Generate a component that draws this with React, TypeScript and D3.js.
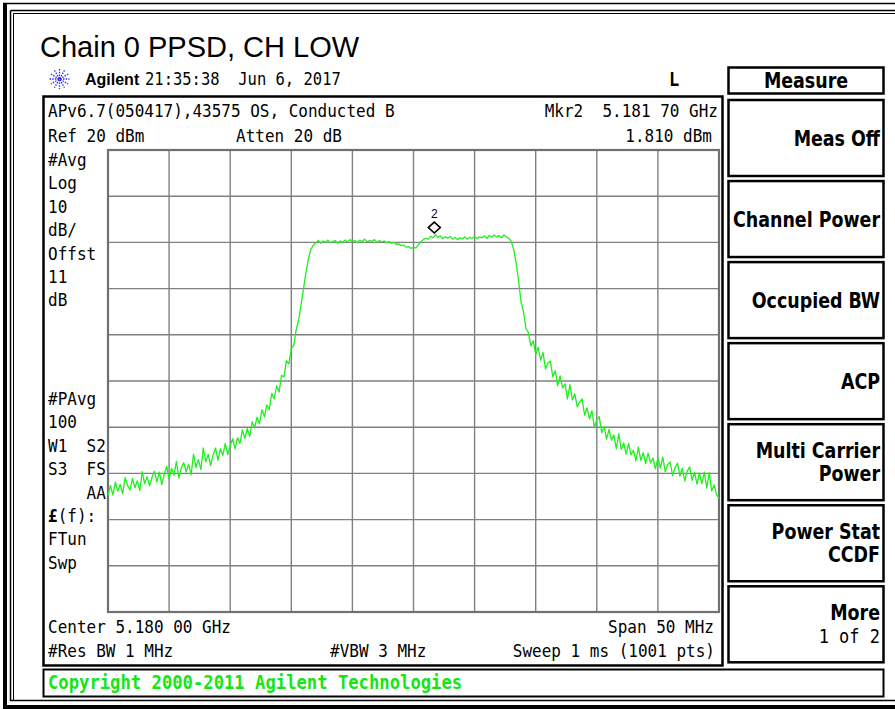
import React from 'react';
import * as d3 from 'd3';

// sweep: 5.180 GHz centre, 50 MHz span, offsets in MHz
const FREQ_START = -25;
const FREQ_STEP = 0.2;
const REF_LEVEL = 20;
const DB_PER_DIV = 10;
const DIVS = 10;

// trace levels (dBm), lower skirt / channel / upper skirt
const LOWER_SKIRT_DBM = [
  -54.8, -52.6, -54.7, -51.9, -53.8, -52.4, -54.4, -50.9, -52.6, -53.6,
  -51.1, -53.1, -51.6, -53.7, -49.6, -52.2, -50.7, -52.7, -50.9, -49.5,
  -51.9, -49.7, -52.4, -50.2, -48.5, -51.2, -48.9, -50.4, -47.4, -51.0,
  -48.8, -47.7, -49.7, -48.0, -50.3, -45.8, -48.7, -47.0, -49.2, -44.5,
  -47.5, -45.9, -48.3, -46.0, -44.5, -47.1, -44.7, -46.1, -43.5, -45.9,
  -44.0, -42.5, -44.7, -42.3, -43.5, -40.6, -42.4, -40.3, -42.0, -38.8,
  -40.1, -37.8, -39.3, -36.2, -37.7, -35.2, -36.2, -32.7, -33.9, -31.0,
  -32.4, -28.8, -29.1, -25.6, -26.3, -23.0, -22.3, -18.9, -16.8, -13.5,
  -10.0, -6.5, -3.6, -1.5, -0.6,
];
const CHANNEL_DBM = [
  -0.1, 0.4, -0.2, 0.3, 0.0, 0.5, -0.1, 0.2, 0.4, -0.2,
  0.3, 0.0, 0.5, 0.1, 0.6, 0.2, 0.4, -0.1, 0.5, 0.2,
  0.7, 0.1, 0.4, 0.2, 0.6, 0.0, 0.4, 0.1, 0.3, -0.1,
  0.2, -0.2, 0.0, -0.4, -0.3, -0.7, -0.6, -1.0, -0.9, -1.3,
  -1.1, -1.2, -0.5, 0.1, 0.6, 0.9, 0.7, 1.3, 1.0, 1.7,
  1.1, 1.4, 0.8, 1.2, 0.9, 1.3, 0.7, 1.1, 0.6, 1.0,
  0.8, 1.2, 0.7, 1.1, 0.9, 1.3, 0.8, 1.2, 1.0, 1.4,
  0.9, 1.5, 1.1, 1.6, 1.2, 1.5, 1.0, 1.6, 1.2, 0.9,
];
const UPPER_SKIRT_DBM = [
  0.2, -1.5, -4.5, -8.3, -12.9, -15.0, -18.6, -19.5, -22.4, -21.3,
  -24.3, -22.7, -25.5, -23.8, -27.4, -26.1, -25.7, -29.1, -27.8, -31.0,
  -28.9, -31.5, -30.6, -33.9, -30.8, -34.1, -32.8, -35.6, -34.5, -33.9,
  -37.4, -35.8, -38.2, -36.4, -40.0, -38.4, -37.7, -41.2, -39.9, -42.6,
  -40.5, -42.8, -41.7, -44.7, -41.4, -44.8, -43.4, -45.8, -43.5, -46.0,
  -45.0, -47.3, -44.3, -47.2, -45.5, -47.9, -45.6, -47.7, -46.7, -49.0,
  -46.6, -48.8, -46.5, -49.6, -48.1, -47.5, -50.5, -48.8, -47.8, -50.6,
  -48.9, -51.6, -49.5, -48.6, -51.5, -49.8, -52.3, -49.9, -52.2, -49.7,
  -53.2, -49.8, -53.8, -52.5, -54.6, -55.4,
];

// marker 2
const MARKER_MHZ = 1.7;
const MARKER_DBM = 1.81;

const LEFT_LABELS_TOP = ['#Avg', 'Log', '10', 'dB/', 'Offst', '11', 'dB'];
const LEFT_LABELS_BOTTOM = ['#PAvg', '100', 'W1  S2', 'S3  FS', '    AA', '£(f):', 'FTun', 'Swp'];
const SOFTKEYS = [
  ['Meas Off'],
  ['Channel Power'],
  ['Occupied BW'],
  ['ACP'],
  ['Multi Carrier', 'Power'],
  ['Power Stat', 'CCDF'],
  ['More', '1 of 2'],
];

const MONO = "'DejaVu Sans Mono', monospace";
const KEYFONT = "'DejaVu Sans Condensed', 'DejaVu Sans', sans-serif";
const ARIAL = "'Liberation Sans', Arial, sans-serif";

const T = ({ x, y, children, anchor = 'start', size = 16, weight = 'normal', family = MONO, fill = '#000', sy = 1.15 }: any) => (
  <text
    transform={`translate(${x},${y}) scale(1,${sy})`}
    textAnchor={anchor}
    fontSize={size}
    fontWeight={weight}
    fontFamily={family}
    fill={fill}
    style={{ whiteSpace: 'pre' }}
  >
    {children}
  </text>
);

export default function App() {
  const W = 895;
  const H = 709;
  const trace = [...LOWER_SKIRT_DBM, ...CHANNEL_DBM, ...UPPER_SKIRT_DBM];

  const x = d3.scaleLinear().domain([FREQ_START, -FREQ_START]).range([108, 719]);
  const y = d3
    .scaleLinear()
    .domain([REF_LEVEL - DB_PER_DIV * DIVS, REF_LEVEL])
    .range([612, 150]);

  const line = d3
    .line<number>()
    .x((d, i) => x(FREQ_START + i * FREQ_STEP))
    .y(d => y(d));

  const vTicks = d3.range(DIVS + 1).map(i => FREQ_START + i * 5);
  const hTicks = d3.range(DIVS + 1).map(i => REF_LEVEL - i * DB_PER_DIV);

  const mx = x(MARKER_MHZ);
  const my = y(MARKER_DBM) - 1;

  const keyTop = 100;
  const keyH = 76;
  const keyGap = 5.05;
  const KS = 19.4; // softkey font size
  const KSY = 1.05;

  return (
    <svg width={W} height={H} style={{ position: 'absolute', left: 0, top: 0, background: '#fff' }}>
      {/* outer frame */}
      <rect x={3} y={3} width={4} height={706} fill="#000" />
      <line x1={3} y1={3.5} x2={W} y2={3.5} stroke="#000" strokeWidth={1.5} />
      <rect x={3} y={705} width={W} height={4} fill="#000" />
      <line x1={10.5} y1={10.5} x2={10.5} y2={701} stroke="#000" strokeWidth={1.5} />
      <line x1={13.5} y1={13.5} x2={13.5} y2={700} stroke="#000" strokeWidth={1} />
      <line x1={10.5} y1={10.5} x2={W} y2={10.5} stroke="#000" strokeWidth={1.5} />
      <line x1={13.5} y1={13.5} x2={W} y2={13.5} stroke="#000" strokeWidth={1} />
      <line x1={10.5} y1={700.5} x2={W} y2={700.5} stroke="#000" strokeWidth={1.5} />

      {/* title */}
      <text x={40} y={57} fontFamily={ARIAL} fontSize={29} fill="#000">
        Chain 0 PPSD, CH LOW
      </text>

      {/* agilent star */}
      <g transform="translate(59.5,79)" stroke="#2b2bff" strokeWidth={1.3} strokeDasharray="1.5 1.2">
        {d3.range(6).map(i => {
          const a = (i * Math.PI) / 6;
          return <line key={i} x1={-10 * Math.cos(a)} y1={-10 * Math.sin(a)} x2={10 * Math.cos(a)} y2={10 * Math.sin(a)} />;
        })}
      </g>
      <text x={85} y={85} fontFamily={ARIAL} fontWeight="bold" fontSize={16} fill="#000">
        Agilent
      </text>
      <T x={145} y={85} size={15.5}>21:35:38  Jun 6, 2017</T>
      <T x={674} y={86} size={17} weight="bold" anchor="middle">L</T>

      {/* screen box */}
      <rect x={43.5} y={96.5} width={679} height={569} fill="none" stroke="#000" strokeWidth={2.5} />
      <T x={48} y={117}>APv6.7(050417),43575 OS, Conducted B</T>
      <T x={718} y={117} anchor="end">Mkr2  5.181 70 GHz</T>
      <T x={48} y={142}>Ref 20 dBm</T>
      <T x={236} y={142}>Atten 20 dB</T>
      <T x={712} y={142} anchor="end">1.810 dBm</T>
      {LEFT_LABELS_TOP.map((s, i) => (
        <T key={s + i} x={48} y={166 + i * 23.4}>{s}</T>
      ))}
      {LEFT_LABELS_BOTTOM.map((s, i) =>
        s.startsWith('£') ? (
          <text key={s} transform={`translate(48,${405 + i * 23.4}) scale(1,1.15)`} fontSize={16} fontFamily={MONO}>
            <tspan fontWeight="bold">£</tspan>(f):
          </text>
        ) : (
          <T key={s + i} x={48} y={405 + i * 23.4}>{s}</T>
        )
      )}
      <T x={48} y={633}>Center 5.180 00 GHz</T>
      <T x={714} y={633} anchor="end">Span 50 MHz</T>
      <T x={48} y={657}>#Res BW 1 MHz</T>
      <T x={330} y={657}>#VBW 3 MHz</T>
      <T x={715} y={657} anchor="end">Sweep 1 ms (1001 pts)</T>

      {/* graticule */}
      <g stroke="#808080" strokeWidth={1.4}>
        {vTicks.map(f => (
          <line key={'v' + f} x1={x(f)} x2={x(f)} y1={y(REF_LEVEL)} y2={y(REF_LEVEL - DB_PER_DIV * DIVS)} />
        ))}
        {hTicks.map(l => (
          <line key={'h' + l} x1={x(FREQ_START)} x2={x(-FREQ_START)} y1={y(l)} y2={y(l)} />
        ))}
      </g>
      <rect
        x={x(FREQ_START)}
        y={y(REF_LEVEL)}
        width={x(-FREQ_START) - x(FREQ_START)}
        height={y(REF_LEVEL - DB_PER_DIV * DIVS) - y(REF_LEVEL)}
        fill="none"
        stroke="#707070"
        strokeWidth={2.2}
      />

      {/* trace */}
      <path d={line(trace) || ''} fill="none" stroke="#1ef01e" strokeWidth={1.3} strokeLinejoin="round" />

      {/* marker 2 */}
      <path
        d={`M${mx},${my - 11} L${mx + 6},${my - 5.5} L${mx},${my} L${mx - 6},${my - 5.5} Z`}
        fill="none"
        stroke="#000"
        strokeWidth={1.6}
      />
      <text x={mx} y={my - 15} textAnchor="middle" fontFamily={ARIAL} fontSize={12} fill="#000">
        2
      </text>

      {/* copyright bar */}
      <rect x={43.5} y={669.5} width={840} height={27} fill="none" stroke="#000" strokeWidth={2} />
      <T x={48} y={689} size={17.2} weight="bold" fill="#14e614" sy={1.1}>
        Copyright 2000-2011 Agilent Technologies
      </T>

      {/* softkeys */}
      <rect x={728.5} y={67.5} width={155} height={26} fill="none" stroke="#000" strokeWidth={2.5} />
      <T x={806} y={88} anchor="middle" size={KS} weight="bold" family={KEYFONT} sy={KSY}>
        Measure
      </T>
      {SOFTKEYS.map((lines, i) => {
        const top = keyTop + i * (keyH + keyGap);
        const mid = top + keyH / 2;
        return (
          <g key={i}>
            <rect x={728.5} y={top} width={155} height={keyH} fill="none" stroke="#000" strokeWidth={2.5} />
            {lines.length === 1 ? (
              <T x={880} y={mid + 8} anchor="end" size={KS} weight="bold" family={KEYFONT} sy={KSY}>
                {lines[0]}
              </T>
            ) : (
              lines.map((s, j) => (
                <T
                  key={s}
                  x={880}
                  y={mid - 4 + j * 23}
                  anchor="end"
                  size={i === 6 && j === 1 ? 17 : KS}
                  weight={i === 6 && j === 1 ? 'normal' : 'bold'}
                  family={i === 6 && j === 1 ? MONO : KEYFONT}
                  sy={i === 6 && j === 1 ? 1.15 : KSY}
                >
                  {s}
                </T>
              ))
            )}
          </g>
        );
      })}
    </svg>
  );
}
